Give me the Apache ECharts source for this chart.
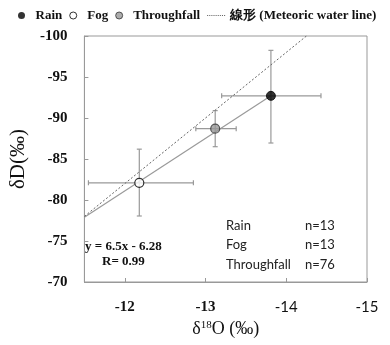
<!DOCTYPE html>
<html>
<head>
<meta charset="utf-8">
<script src="https://cdn.jsdelivr.net/npm/echarts@6/dist/echarts.min.js"></script>
<style>
  html, body { margin: 0; padding: 0; background: #fff; }
  #chart { width: 390px; height: 345px; }
</style>
</head>
<body>
<div id="chart"></div>
<script>
// groups and their mean values
const groups = ["Rain", "Fog", "Throughfall"];
const d18O = [-13.81, -12.18, -13.12];
const dD = [-92.7, -82.1, -88.7];
// error bar ends
const d18OLow = [-13.2, -11.55, -12.88];
const d18OHigh = [-14.43, -12.85, -13.38];
const dDLow = [-86.95, -78.05, -86.5];
const dDHigh = [-98.25, -86.2, -90.9];
const counts = [13, 13, 76];
// meteoric water line (dashed) and regression line (solid)
const mwlX = [-11.5, -14.25];
const mwlY = [-78.0, -100];
const fitX = [-11.5, -13.81];
const fitY = [-77.9, -92.7];
const xTicks = [-12, -13, -14, -15];
const yTicks = [-100, -95, -90, -85, -80, -75, -70];

const serif = "Liberation Serif";
const markerStyles = [
  { color: "#000", borderColor: "#000", borderWidth: 1 },
  { color: "#fff", borderColor: "#000", borderWidth: 1.2 },
  { color: "#999", borderColor: "#333", borderWidth: 1.2 }
];
const dotIcon = "path://M0 0h1v1h-1zM2 0h1v1h-1zM4 0h1v1h-1zM6 0h1v1h-1zM8 0h1v1h-1zM10 0h1v1h-1zM12 0h1v1h-1zM14 0h1v1h-1zM16 0h1v1h-1z";
const circleIcon = "path://M5 0A5 5 0 1 1 5 10A5 5 0 1 1 5 0Z";

let chart = echarts.init(document.getElementById("chart"));

let series = [];
// 误差线
series.push({
  type: "custom",
  name: "err",
  z: 1,
  silent: true,
  data: groups.map((g, i) => [d18O[i], dD[i], d18OLow[i], d18OHigh[i], dDLow[i], dDHigh[i]]),
  renderItem: function (params, api) {
    const y = api.value(1), x = api.value(0);
    const h1 = api.coord([api.value(2), y]);
    const h2 = api.coord([api.value(3), y]);
    const v1 = api.coord([x, api.value(4)]);
    const v2 = api.coord([x, api.value(5)]);
    const c = 2.5;
    const st = { stroke: "#999", lineWidth: 1.2 };
    const ln = (a, b, cc, d) => ({ type: "line", shape: { x1: a, y1: b, x2: cc, y2: d }, style: st });
    return {
      type: "group",
      children: [
        ln(h1[0], h1[1], h2[0], h2[1]),
        ln(h1[0], h1[1] - c, h1[0], h1[1] + c),
        ln(h2[0], h2[1] - c, h2[0], h2[1] + c),
        ln(v1[0], v1[1], v2[0], v2[1]),
        ln(v1[0] - c, v1[1], v1[0] + c, v1[1]),
        ln(v2[0] - c, v2[1], v2[0] + c, v2[1])
      ]
    };
  }
});
series.push({
  type: "line",
  name: "fit",
  z: 2,
  silent: true,
  symbol: "none",
  data: fitX.map((x, i) => [x, fitY[i]]),
  lineStyle: { color: "#9a9a9a", width: 1.2 }
});
series.push({
  type: "line",
  name: "線形 (Meteoric water line)",
  z: 2,
  silent: true,
  symbol: "none",
  data: mwlX.map((x, i) => [x, mwlY[i]]),
  itemStyle: { color: "#666" },
  lineStyle: { color: "#666", width: 1, type: [2, 2] }
});
groups.forEach((g, i) => {
  series.push({
    type: "scatter",
    name: g,
    z: 3,
    symbolSize: 9,
    data: [[d18O[i], dD[i]]],
    itemStyle: markerStyles[i]
  });
});

let statText = [];
groups.forEach((g, i) => {
  statText.push({
    type: "text", left: 226, top: 219 + i * 19.5,
    style: { text: g, font: "13px Lato", fill: "#222" }
  });
  statText.push({
    type: "text", left: 305, top: 219 + i * 19.5,
    style: { text: "n=" + counts[i], font: "13px Lato", fill: "#222" }
  });
});

let option = {
  animation: false,
  legend: {
    left: 18,
    top: 9,
    width: 372,
    padding: 0,
    itemGap: 7,
    itemWidth: 18,
    itemHeight: 7,
    data: [
      { name: "Rain", icon: circleIcon, itemStyle: { borderWidth: 0 } },
      { name: "Fog", icon: circleIcon, itemStyle: { borderWidth: 1 } },
      { name: "Throughfall", icon: circleIcon, itemStyle: { borderWidth: 1 } },
      { name: "線形 (Meteoric water line)", icon: dotIcon, itemStyle: { color: "#666", borderWidth: 0 } }
    ],
    textStyle: { fontFamily: serif, fontSize: 13, fontWeight: "bold", color: "#111" }
  },
  grid: {
    left: 77, right: 23, top: 36, bottom: 63,
    show: true, borderColor: "#999", borderWidth: 1
  },
  xAxis: {
    type: "value",
    min: -15, max: -11.5, interval: 1,
    inverse: true,
    name: "{a|δ}{s|18}{a|O (‰)}",
    nameLocation: "middle",
    nameGap: 34,
    nameTextStyle: {
      rich: {
        a: { fontFamily: serif, fontSize: 18, color: "#111" },
        s: { fontFamily: serif, fontSize: 11, color: "#111", verticalAlign: "top", padding: [0, 0, 8, 0] }
      }
    },
    axisLine: { lineStyle: { color: "#999" } },
    axisTick: { inside: true, length: 4, lineStyle: { color: "#999" } },
    splitLine: { show: false },
    axisLabel: {
      margin: 18,
      customValues: xTicks,
      formatter: function (v) {
        return v <= -14 ? "{s|" + v + "}" : "{b|" + v + "}";
      },
      rich: {
        b: { fontFamily: serif, fontSize: 15, fontWeight: "bold", color: "#111" },
        s: { fontFamily: "Lato", fontSize: 15, color: "#111" }
      }
    }
  },
  yAxis: {
    type: "value",
    min: -100, max: -70, interval: 5,
    inverse: true,
    name: "δD(‰)",
    nameLocation: "middle",
    nameGap: 34,
    nameTextStyle: { fontFamily: serif, fontSize: 21, color: "#111" },
    axisLine: { show: true, lineStyle: { color: "#999" } },
    axisTick: { show: true, inside: true, length: 4, lineStyle: { color: "#999" } },
    splitLine: { show: false },
    axisLabel: {
      margin: 17,
      fontFamily: serif, fontSize: 15, fontWeight: "bold", color: "#111",
      customValues: yTicks
    }
  },
  graphic: [
    { type: "text", left: 85, top: 240, style: { text: "y = 6.5x - 6.28", font: "bold 13px 'Liberation Serif'", fill: "#111" } },
    { type: "text", left: 102, top: 255, style: { text: "R= 0.99", font: "bold 13px 'Liberation Serif'", fill: "#111" } }
  ].concat(statText),
  series: series
};

chart.setOption(option);
window.addEventListener("resize", function () {
  chart.resize();
});
</script>
</body>
</html>
